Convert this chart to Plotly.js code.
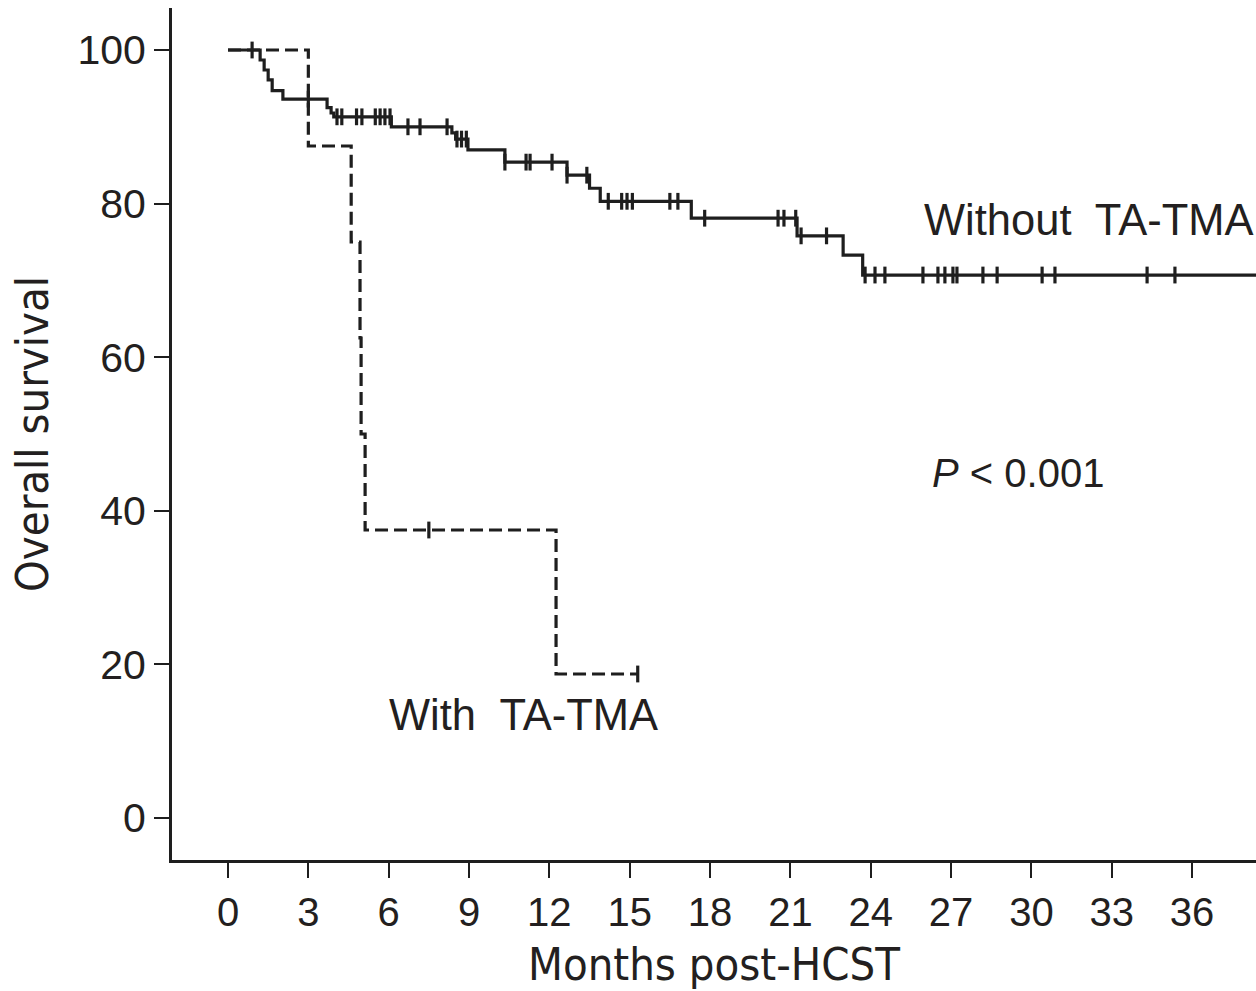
<!DOCTYPE html>
<html>
<head>
<meta charset="utf-8">
<script src="https://cdn.plot.ly/plotly-3.0.1.min.js"></script>
<style>html,body{margin:0;padding:0;background:#fff;}#chart{width:1256px;height:991px;}</style>
</head>
<body>
<div id="chart"></div>
<script>
// Without TA-TMA: event times (months) and survival (%) after each step
const withoutTimes = [0, 1.2, 1.35, 1.5, 1.65, 2.05, 3.7, 3.85, 3.95, 6.1, 8.36, 8.5, 8.96, 10.34, 12.66, 13.5, 13.9, 17.3, 21.25, 22.97, 23.7, 38.5];
const withoutSurv  = [100, 98.7, 97.4, 96.1, 94.7, 93.6, 92.5, 91.8, 91.3, 90.0, 89.2, 88.4, 87.0, 85.4, 83.7, 82.0, 80.3, 78.1, 75.8, 73.3, 70.7, 70.7];
const withoutCensor = [0.9, 3.0, 4.07, 4.25, 4.8, 5.0, 5.5, 5.68, 5.86, 6.05, 6.72, 7.17, 8.18, 8.55, 8.72, 8.9,
  10.34, 11.13, 11.28, 12.1, 12.66, 13.4, 14.2, 14.7, 14.9, 15.1, 16.5, 16.8, 17.8, 20.54, 20.76, 21.2, 21.4, 22.35,
  23.79, 24.16, 24.53, 25.95, 26.51, 26.77, 27.07, 27.22, 28.19, 28.72, 30.4, 30.88, 34.32, 35.36];

// With TA-TMA
const withTimes = [0, 3.0, 4.6, 4.93, 4.97, 5.12, 12.25, 15.3];
const withSurv  = [100, 87.5, 75, 62.5, 50, 37.5, 18.75, 18.75];
const withCensor = [7.5, 15.3];

const xTicks = [0, 3, 6, 9, 12, 15, 18, 21, 24, 27, 30, 33, 36];
const yTicks = [0, 20, 40, 60, 80, 100];

function survAt(times, surv, t) {
  let s = surv[0];
  for (let i = 0; i < times.length; i++) { if (times[i] <= t) s = surv[i]; }
  return s;
}

const ink = '#1e1e1e';
const txt = '#231f20';
const font = 'Liberation Sans, Arial, sans-serif';
const narrow = 'Liberation Sans Narrow, DejaVu Sans Condensed, Liberation Sans, Arial, sans-serif';

const censorMarker = {symbol: 'line-ns-open', size: 12, color: ink, line: {width: 3.2, color: ink}};

const traces = [
  {x: withoutTimes, y: withoutSurv, mode: 'lines', line: {shape: 'hv', color: ink, width: 3.2}, hoverinfo: 'skip'},
  {x: withoutCensor, y: withoutCensor.map(t => survAt(withoutTimes, withoutSurv, t)), mode: 'markers',
   marker: censorMarker, hoverinfo: 'skip'},
  {x: withTimes, y: withSurv, mode: 'lines', line: {shape: 'hv', color: ink, width: 3.2, dash: '13px,6px'}, hoverinfo: 'skip'},
  {x: withCensor, y: withCensor.map(t => survAt(withTimes, withSurv, t)), mode: 'markers',
   marker: censorMarker, hoverinfo: 'skip'}
];

const layout = {
  width: 1256, height: 991,
  margin: {l: 172, r: 0, t: 8, b: 131, pad: 0},
  paper_bgcolor: '#fff', plot_bgcolor: '#fff',
  showlegend: false,
  xaxis: {
    range: [-2.091, 38.387], tickvals: xTicks, ticktext: xTicks.map(String),
    showgrid: false, zeroline: false, showline: true, linecolor: ink, linewidth: 3,
    ticks: 'outside', ticklen: 15, tickwidth: 2, tickcolor: ink,
    tickfont: {family: font, size: 40, color: txt},
    title: {text: 'Months post-HCST', font: {family: narrow, size: 45, color: txt}, standoff: 24}
  },
  yaxis: {
    range: [-5.47, 105.47], tickvals: yTicks, ticktext: yTicks.map(String),
    showgrid: false, zeroline: false, showline: true, linecolor: ink, linewidth: 3,
    ticks: 'outside', ticklen: 15, tickwidth: 2, tickcolor: ink,
    tickfont: {family: font, size: 41, color: txt},
    title: {text: 'Overall survival', font: {family: narrow, size: 45, color: txt}, standoff: 15}
  },
  annotations: [
    {x: 25.9, y: 77.9, xref: 'x', yref: 'y', text: 'Without  TA-TMA', showarrow: false, xanchor: 'left', yanchor: 'middle',
     font: {family: font, size: 43.5, color: txt}},
    {x: 5.94, y: 13.4, xref: 'x', yref: 'y', text: 'With  TA-TMA', showarrow: false, xanchor: 'left', yanchor: 'middle',
     font: {family: font, size: 43.5, color: txt}},
    {x: 26.2, y: 44.9, xref: 'x', yref: 'y', text: '<i>P</i> < 0.001', showarrow: false, xanchor: 'left', yanchor: 'middle',
     font: {family: font, size: 40, color: txt}}
  ]
};

Plotly.newPlot('chart', traces, layout, {displayModeBar: false, staticPlot: true});
</script>
</body>
</html>
